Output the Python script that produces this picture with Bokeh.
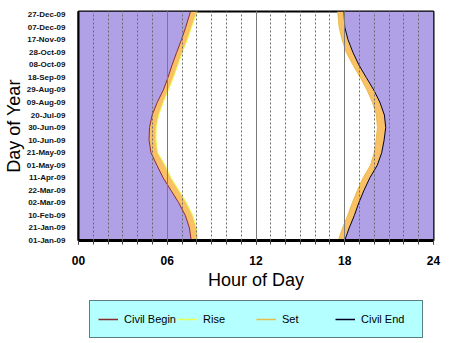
from bokeh.plotting import figure
from bokeh.layouts import column
from bokeh.models import (Range1d, SingleIntervalTicker, FixedTicker, Legend, LegendItem)
from bokeh.embed import file_html
from bokeh.resources import INLINE

# ---- data ----
days = [0, 20, 40, 60, 80, 100, 120, 140, 160, 180, 200, 220, 240, 260, 280, 300, 320, 340, 365]
civil_begin = [7.62, 7.50, 7.22, 6.78, 6.25, 5.72, 5.30, 4.90, 4.77, 4.80, 4.98, 5.32, 5.74, 6.05, 6.33, 6.64, 6.96, 7.25, 7.57]
rise = [8.07, 7.97, 7.72, 7.30, 6.78, 6.25, 5.85, 5.35, 5.24, 5.25, 5.42, 5.72, 6.08, 6.42, 6.72, 7.02, 7.36, 7.64, 8.02]
sunset = [17.56, 17.85, 18.20, 18.51, 18.86, 19.24, 19.74, 19.99, 20.12, 20.21, 20.14, 19.88, 19.50, 19.05, 18.55, 18.10, 17.82, 17.62, 17.52]
civil_end = [18.00, 18.30, 18.65, 18.95, 19.30, 19.70, 20.20, 20.50, 20.66, 20.77, 20.68, 20.38, 19.96, 19.45, 18.95, 18.55, 18.22, 18.00, 17.95]

y_tick_days = [0, 20, 40, 60, 80, 100, 120, 140, 160, 180, 200, 220, 240, 260, 280, 300, 320, 340, 360]
y_tick_labels = ["01-Jan-09", "21-Jan-09", "10-Feb-09", "02-Mar-09", "22-Mar-09", "11-Apr-09",
                 "01-May-09", "21-May-09", "10-Jun-09", "30-Jun-09", "20-Jul-09", "09-Aug-09",
                 "29-Aug-09", "18-Sep-09", "08-Oct-09", "28-Oct-09", "17-Nov-09", "07-Dec-09", "27-Dec-09"]
x_tick_hours = [0, 6, 12, 18, 24]
x_tick_labels = ["00", "06", "12", "18", "24"]
series_names = ["Civil Begin", "Rise", "Set", "Civil End"]

FONT = "Liberation Sans"
PURPLE = "#B0A1E6"
ORANGE = "#F9C066"
LINE_COLORS = ["#8B2A2A", "#E4FF50", "#E8BC48", "#000022"]
SERIES = [civil_begin, rise, sunset, civil_end]

p = figure(width=450, height=293, output_backend="svg", toolbar_location=None,
           x_range=Range1d(0, 24), y_range=Range1d(0, 365),
           min_border_left=77, min_border_right=17, min_border_top=11, min_border_bottom=53)
p.background_fill_color = "white"
p.border_fill_color = "white"
p.outline_line_color = "black"
p.outline_line_width = 2

# fills
p.harea(y=days, x1=0, x2=civil_begin, fill_color=PURPLE)
p.harea(y=days, x1=civil_begin, x2=rise, fill_color=ORANGE)
p.harea(y=days, x1=sunset, x2=civil_end, fill_color=ORANGE)
p.harea(y=days, x1=civil_end, x2=24, fill_color=PURPLE)

# lines
for xs, c in zip(SERIES, LINE_COLORS):
    p.line(xs, days, line_color=c, line_width=1)

# grid
ticker = SingleIntervalTicker(interval=6, num_minor_ticks=6)
p.xgrid.ticker = ticker
p.xgrid.grid_line_color = "#7A7A7A"
p.xgrid.grid_line_width = 1
p.xgrid.minor_grid_line_color = "#6A6A6A"
p.xgrid.minor_grid_line_dash = "2 2"
p.xgrid.level = "guide"
p.ygrid.grid_line_color = None

# x axis
xa = p.xaxis[0]
xa.ticker = ticker
xa.major_label_overrides = {h: s for h, s in zip(x_tick_hours, x_tick_labels)}
xa.major_label_text_font = FONT
xa.major_label_text_font_style = "bold"
xa.major_label_text_font_size = "12px"
xa.major_label_text_color = "black"
xa.major_label_standoff = 11
xa.major_tick_in = 0
xa.major_tick_out = 4
xa.minor_tick_in = 0
xa.minor_tick_out = 4
xa.major_tick_line_color = "#444444"
xa.minor_tick_line_color = "#444444"
xa.axis_line_color = "black"
xa.axis_line_width = 3
xa.axis_label = "Hour of Day"
xa.axis_label_text_font = FONT
xa.axis_label_text_font_style = "normal"
xa.axis_label_text_font_size = "18px"
xa.axis_label_text_color = "black"
xa.axis_label_standoff = 2

# y axis
ya = p.yaxis[0]
ya.ticker = FixedTicker(ticks=y_tick_days)
ya.major_label_overrides = {d: s for d, s in zip(y_tick_days, y_tick_labels)}
ya.major_label_text_font = FONT
ya.major_label_text_font_style = "bold"
ya.major_label_text_font_size = "8px"
ya.major_label_text_color = "#111111"
ya.major_label_standoff = 7
ya.major_tick_line_color = None
ya.minor_tick_line_color = None
ya.axis_line_color = "black"
ya.axis_line_width = 2
ya.axis_label = "Day of Year"
ya.axis_label_text_font = FONT
ya.axis_label_text_font_style = "normal"
ya.axis_label_text_font_size = "18px"
ya.axis_label_text_color = "black"
ya.axis_label_standoff = 0

# legend strip below the chart (its frame is aligned with the chart's frame)
q = figure(width=450, height=50, output_backend="svg", toolbar_location=None,
           x_range=Range1d(0, 24), y_range=Range1d(-1000, -900),
           min_border_left=0, min_border_right=0, min_border_top=0, min_border_bottom=0,
           x_axis_type=None, y_axis_type=None)
q.outline_line_color = None
q.background_fill_color = "white"
q.border_fill_color = "white"
q.grid.grid_line_color = None
legend_renderers = [q.line(xs, days, line_color=c, line_width=1.5, visible=False)
                    for xs, c in zip(SERIES, LINE_COLORS)]
legend = Legend(items=[LegendItem(label=n, renderers=[r]) for n, r in zip(series_names, legend_renderers)],
                location=(11, 5), orientation="horizontal",
                background_fill_color="#B4FFFF", background_fill_alpha=1.0,
                border_line_color="black", border_line_width=1,
                inactive_fill_alpha=0.0,
                label_text_font=FONT, label_text_font_size="11px", label_text_color="black",
                glyph_width=20, glyph_height=14, label_standoff=6, label_width=53, label_height=20,
                spacing=0, padding=8, margin=0)
q.add_layout(legend)

open("out.html", "w").write(file_html(column(p, q, spacing=0), INLINE))
